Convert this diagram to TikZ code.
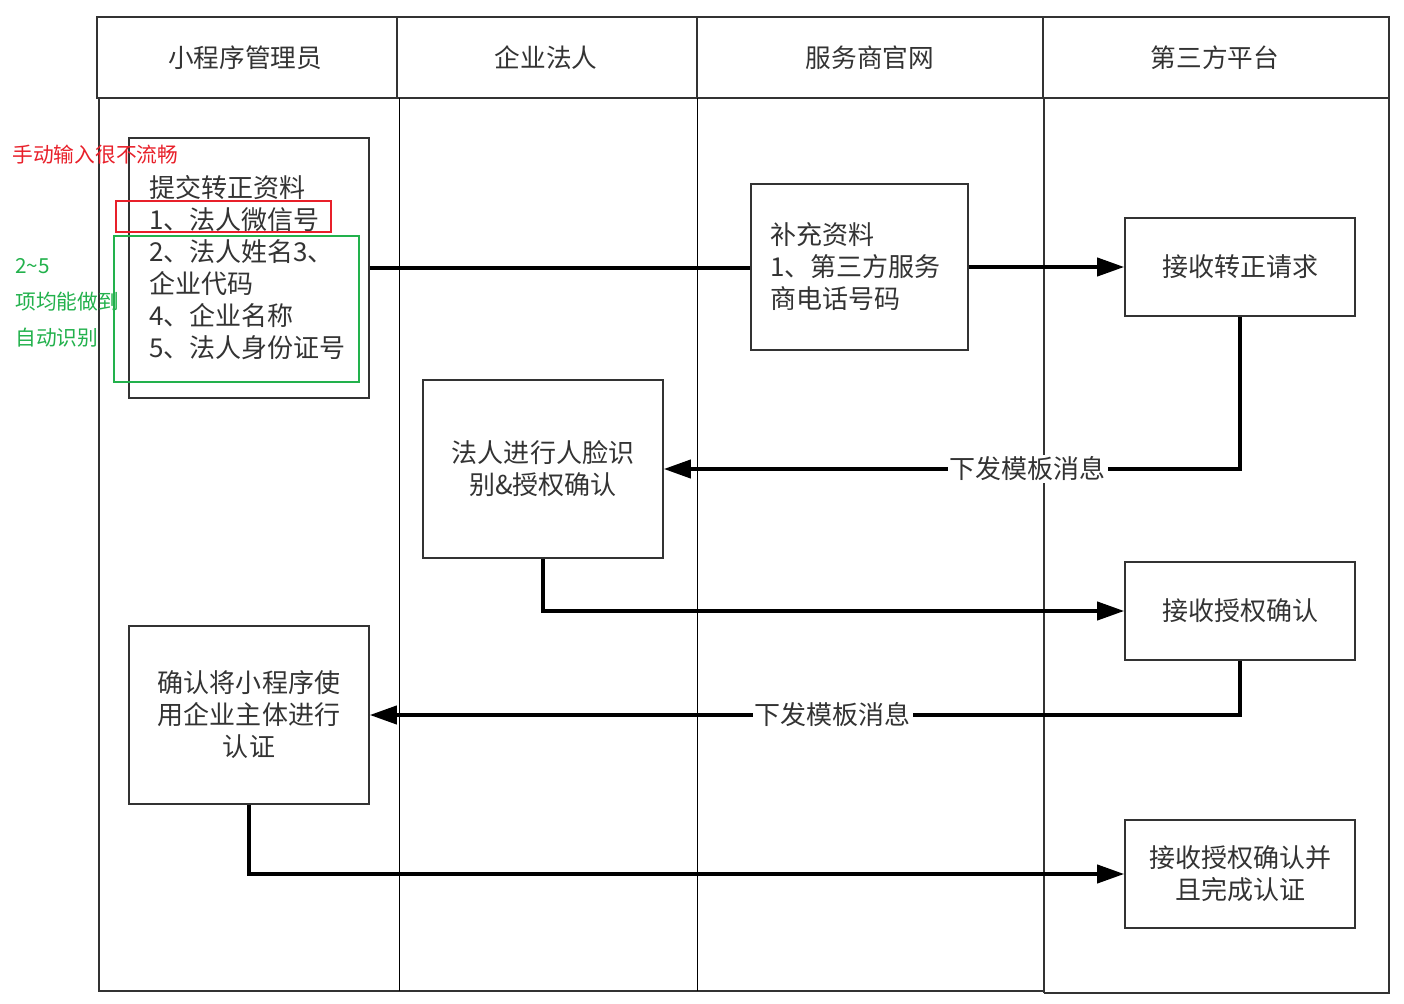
\documentclass[tikz,border=0pt]{standalone}
\usepackage{fontspec}
\setmainfont{Noto Sans CJK SC}
\usepackage{xcolor}
\usetikzlibrary{arrows.meta, positioning, calc}
\definecolor{dgray}{HTML}{333333}
\definecolor{nred}{HTML}{E8202A}
\definecolor{ngreen}{HTML}{22B14C}
\tikzset{
  stepbox/.style={draw=dgray, line width=0.9pt, text=dgray, align=center,
    inner sep=0pt, font=\fontsize{14.8}{18.2}\selectfont},
  flow/.style={line width=2.2pt, -{Triangle[length=0.54cm, width=0.36cm]}},
  lbl/.style={fill=white, text=dgray, inner sep=1pt, font=\fontsize{14.8}{18}\selectfont},
  lanehead/.style={text=dgray, font=\fontsize{14.6}{18}\selectfont}
}

\begin{document}
\begin{tikzpicture}[x=0.02cm, y=-0.02cm]
\useasboundingbox (0,0) rectangle (1404,1004);
% swimlanes
\draw[dgray, line width=0.9pt] (97,17) rectangle (1389,98);
\foreach \xx in {397,697,1043}
  \draw[dgray, line width=0.6pt] (\xx,17) -- (\xx,98);
\draw[dgray, line width=0.9pt] (99,98) -- (99,991) -- (1044,991);
\draw[dgray, line width=0.9pt] (1044,993) -- (1389,993) -- (1389,98);
\foreach \xx in {399,697}
  \draw[black, line width=0.5pt] (\xx,98) -- (\xx,991);
\draw[dgray, line width=0.7pt] (1044,98) -- (1044,993);
\node[lanehead] (hadmin) at (245,58) {小程序管理员};
\node[lanehead] (hlegal) at (546,58) {企业法人};
\node[lanehead] (hsite) at (870,58) {服务商官网};
\node[lanehead] (hthird) at (1215,58) {第三方平台};

% steps
\node[stepbox, minimum width=4.8cm, minimum height=5.2cm, text width=4.0cm,
  align=left, inner xsep=0.4cm] (submit) at (249,268)
  {提交转正资料\\1、法人微信号\\2、法人姓名3、\\企业代码\\4、企业名称\\5、法人身份证号};
\node[stepbox, minimum width=4.34cm, minimum height=3.32cm, text width=3.58cm,
  align=left, inner xsep=0.38cm] (supply) at (859.5,267)
  {补充资料\\1、第三方服务\\商电话号码};
\node[stepbox, minimum width=4.6cm, minimum height=1.96cm] (recvreq) at (1240,267) {接收转正请求};
\node[stepbox, minimum width=4.8cm, minimum height=3.56cm] (face) at (543,469)
  {法人进行人脸识\\别\&授权确认};
\node[stepbox, minimum width=4.6cm, minimum height=1.96cm] (recvauth) at (1240,611) {接收授权确认};
\node[stepbox, minimum width=4.8cm, minimum height=3.56cm] (confirm) at (249,715)
  {确认将小程序使\\用企业主体进行\\认证};
\node[stepbox, minimum width=4.6cm, minimum height=2.16cm] (recvdone) at (1240,874)
  {接收授权确认并\\且完成认证};

% remarks
\draw[nred, line width=1.4pt] (116,201) rectangle (331,232);
\draw[ngreen, line width=1.4pt] (114,236) rectangle (359,382);
\node[anchor=west, text=nred, inner sep=0pt, font=\fontsize{11.8}{14}\selectfont]
  (manual) at (12,155) {手动输入很不流畅};
\node[anchor=west, text=ngreen, inner sep=0pt, align=left,
  font=\fontsize{11.8}{20.5}\selectfont] (auto) at (15,303)
  {2\textasciitilde 5\\项均能做到\\自动识别};

% connectors
\draw[line width=2.2pt] (submit.east) -- (submit.east -| supply.west);
\draw[flow] (supply.east) -- (recvreq.west);
\draw[flow] (recvreq.south) |- (face.east) node[lbl, pos=0.684] (msg1) {下发模板消息};
\draw[flow] (face.south) |- (recvauth.west);
\draw[flow] (recvauth.south) |- (confirm.east) node[lbl, pos=0.734] (msg2) {下发模板消息};
\draw[flow] (confirm.south) |- (recvdone.west);
\end{tikzpicture}
\end{document}
